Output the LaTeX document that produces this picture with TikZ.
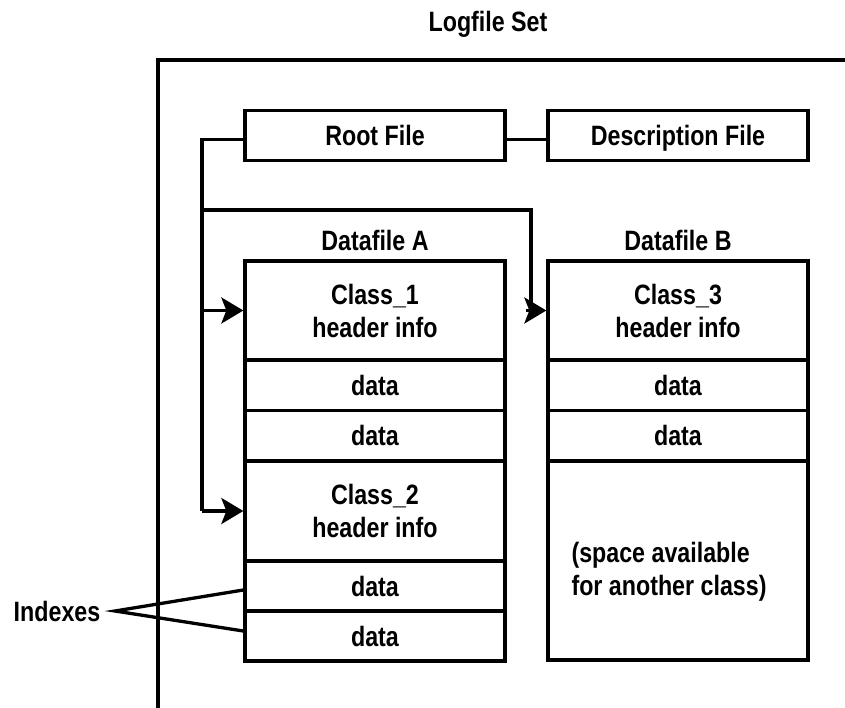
\documentclass[tikz,border=0pt]{standalone}
\usepackage{fontspec}
\setmainfont{Liberation Sans}[FakeStretch=0.83]
\usetikzlibrary{arrows.meta}
\begin{document}
\begin{tikzpicture}[x=1pt,y=-1pt,
  every node/.style={font=\fontsize{28}{33}\selectfont\bfseries},
  cell/.style={draw, line width=3.3pt, minimum width=260pt, inner sep=0pt, align=center, text depth=0pt},
  wire/.style={line width=3.3pt},
  arr/.style={line width=3.3pt, -{Stealth[length=22pt,width=26pt,inset=5pt]}}]
\useasboundingbox (0,0) rectangle (845,708);
% title and frame
\node (title) at (488,24) {Logfile Set};
\draw[wire] (158,712) -- (158,60) -- (850,60);
% top files
\node[cell, minimum height=50pt] (root) at (375,135.5) {Root File};
\node[cell, minimum height=50pt] (desc) at (678,135.5) {Description File};
\draw[wire] ([yshift=-4pt]root.east) -- ([yshift=-4pt]desc.west);
% datafile labels
\node (la) at (375,240) {Datafile A};
\node (lb) at (678,240) {Datafile B};
% datafile A
\node[cell, minimum height=99pt] (c1) at (375,310.5) {Class\_1\\header info};
\node[cell, minimum height=50.5pt] (a1) at (375,385.25) {data};
\node[cell, minimum height=50.5pt] (a2) at (375,435.75) {data};
\node[cell, minimum height=100pt] (c2) at (375,511) {Class\_2\\header info};
\node[cell, minimum height=50pt] (a3) at (375,586) {data};
\node[cell, minimum height=50pt] (a4) at (375,636) {data};
% datafile B
\node[cell, minimum height=99pt] (c3) at (678,310.5) {Class\_3\\header info};
\node[cell, minimum height=50.5pt] (b1) at (678,385.25) {data};
\node[cell, minimum height=50.5pt] (b2) at (678,435.75) {data};
\node[cell, minimum height=199pt] (sp) at (678,560.5) {};
\node[anchor=west, align=left] (sptext) at (568,572) {(space available\\for another class)};
% bus
\coordinate (j0) at (202,139.5);
\coordinate (j1) at (202,210);
\coordinate (j2) at (531,210);
\coordinate (j3) at (531,310.5);
\coordinate (j4) at (526,310.5);
\draw[wire] ([yshift=-4pt]root.west) -- (j0) -- (202,511);
\draw[arr] (202,310.5) -- (c1.west);
\draw[arr] (202,511) -- (c2.west);
\draw[wire] (j1) -- (j2) -- (j3);
\draw[arr] (j4) -- (c3.west);
% indexes
\node (idx) at (57,611) {Indexes};
\coordinate (ip) at (115,611);
\draw[wire] ([yshift=-4pt]a3.west) -- (ip) -- ([yshift=5pt]a4.west);
\end{tikzpicture}
\end{document}
